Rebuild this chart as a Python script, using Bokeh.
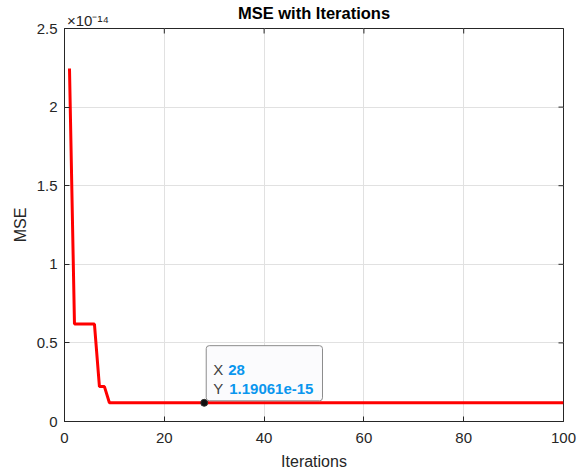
import math
from bokeh.plotting import figure
from bokeh.models import Label, LinearAxis, FixedTicker, Range1d, CustomJSTickFormatter
from bokeh.embed import file_html
from bokeh.resources import INLINE

# ---- data (MSE in units of 1e-14) ----
iterations = list(range(1, 101))
mse_scaled = [2.245] + [0.62] * 5 + [0.222] * 2 + [0.119061] * 92
x_ticks = [0, 20, 40, 60, 80, 100]
y_ticks = [0, 0.5, 1, 1.5, 2, 2.5]
title_text = "MSE with Iterations"
exponent_text = "×10⁻¹⁴"
exponent_pos = 4.7          # x position (data) of exponent label centre
tip_x = 28
tip_y = 0.119061
tip_x_text = "28"
tip_y_text = "1.19061e-15"

FONT = "Liberation Sans"
DARK = "#262626"
X0, X1 = 0, 100
Y0, Y1 = 0, 2.5

p = figure(width=582, height=472, output_backend="svg", toolbar_location=None,
           title=None,
           x_range=Range1d(X0, X1), y_range=Range1d(Y0, Y1),
           min_border_left=64, min_border_right=19, min_border_top=28, min_border_bottom=50)
p.background_fill_color = "white"
p.border_fill_color = "white"
p.outline_line_color = DARK
p.outline_line_width = 1

for ax in (p.xaxis[0], p.yaxis[0]):
    ax.major_label_text_font = FONT
    ax.major_label_text_font_size = "15px"
    ax.major_label_text_color = DARK
    ax.axis_label_text_font = FONT
    ax.axis_label_text_font_size = "16px"
    ax.axis_label_text_font_style = "normal"
    ax.axis_label_text_color = DARK
    ax.axis_line_color = DARK
    ax.major_tick_line_color = DARK
    ax.major_tick_in = 5
    ax.major_tick_out = 0
    ax.minor_tick_line_color = None

p.xaxis.ticker = FixedTicker(ticks=x_ticks)
p.yaxis.ticker = FixedTicker(ticks=y_ticks)
p.xaxis.axis_label = "Iterations"
p.yaxis.axis_label = "MSE"
p.xaxis.major_label_standoff = 11
p.yaxis.major_label_standoff = 7
p.xaxis.axis_label_standoff = 7
p.yaxis.axis_label_standoff = 5

# top axis: carries the exponent label and the title
top = LinearAxis(ticker=FixedTicker(ticks=[exponent_pos]),
                 formatter=CustomJSTickFormatter(args=dict(t=exponent_text), code="return t"),
                 major_label_text_font=FONT, major_label_text_font_size="15px",
                 major_label_text_color=DARK, major_label_standoff=0,
                 major_tick_in=0, major_tick_out=0, major_tick_line_color=None,
                 minor_tick_line_color=None, axis_line_color=None,
                 axis_label=title_text, axis_label_text_font=FONT,
                 axis_label_text_font_size="16.5px", axis_label_text_font_style="bold",
                 axis_label_text_color="black", axis_label_standoff=-13)
p.add_layout(top, "above")

# inward box ticks on top and right edges (half of each dash is clipped by the frame)
p.scatter(x_ticks, [Y1] * len(x_ticks), marker="dash", size=10, angle=math.pi / 2,
          line_color=DARK, line_width=1)
p.scatter([X1] * len(y_ticks), y_ticks, marker="dash", size=10,
          line_color=DARK, line_width=1)

p.xgrid.ticker = FixedTicker(ticks=x_ticks)
p.ygrid.ticker = FixedTicker(ticks=y_ticks)
p.grid.grid_line_color = "#e1e1e1"
p.grid.grid_line_width = 1

p.line(iterations, mse_scaled, line_color="#ff0000", line_width=3)

# datatip
p.add_layout(Label(x=tip_x, y=tip_y, x_offset=2, y_offset=2, text=" ", text_font_size="1px",
                   text_baseline="bottom", text_align="left",
                   background_fill_color="#fbfbfd", border_line_color="#8c8c8c",
                   border_line_width=1, padding=dict(left=58, right=58, top=27, bottom=27),
                   border_radius=3))
p.add_layout(Label(x=tip_x, y=tip_y, x_offset=9, y_offset=33, text="X", text_font=FONT,
                   text_font_size="15px", text_color="#404040", text_baseline="alphabetic"))
p.add_layout(Label(x=tip_x, y=tip_y, x_offset=24, y_offset=33, text=tip_x_text, text_font=FONT,
                   text_font_size="15px", text_font_style="bold", text_color="#0a96ee",
                   text_baseline="alphabetic"))
p.add_layout(Label(x=tip_x, y=tip_y, x_offset=9, y_offset=14, text="Y", text_font=FONT,
                   text_font_size="15px", text_color="#404040", text_baseline="alphabetic"))
p.add_layout(Label(x=tip_x, y=tip_y, x_offset=25, y_offset=14, text=tip_y_text, text_font=FONT,
                   text_font_size="15px", text_font_style="bold", text_color="#0a96ee",
                   text_baseline="alphabetic"))
p.scatter([tip_x], [tip_y], size=7, fill_color="#111111", line_color="#333333")

open("out.html", "w").write(file_html(p, INLINE))
